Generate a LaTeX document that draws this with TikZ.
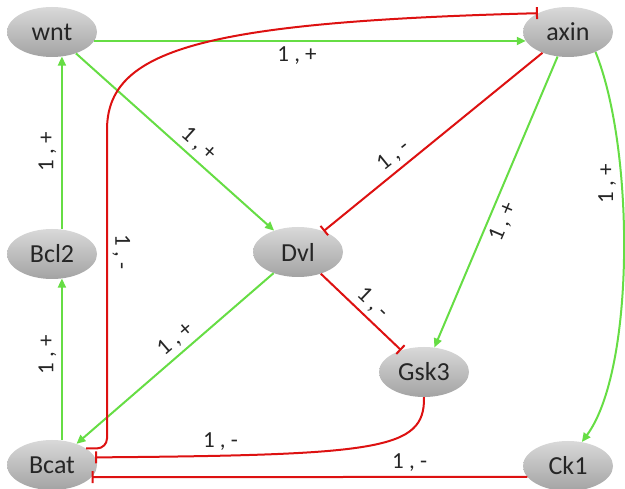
\documentclass[tikz,border=0pt]{standalone}
\usepackage{fontspec}
\setmainfont{Carlito}
\usetikzlibrary{arrows.meta,shapes.geometric}
\definecolor{eg}{HTML}{66DD44}
\definecolor{er}{HTML}{DD1111}
\begin{document}
\begin{tikzpicture}[x=1pt,y=-1pt,
  gene/.style={ellipse, minimum width=90pt, minimum height=50pt, inner sep=0pt,
    top color=gray!30, middle color=gray!8, bottom color=gray!72,
    font=\fontsize{26}{30}\selectfont, text=black!85},
  act/.style={draw=eg, line width=2pt, -{Triangle[length=9pt,width=8pt]}},
  inh/.style={draw=er, line width=2pt, -{Bar[width=12pt,line width=2pt]}},
  lab/.style={font=\fontsize{23}{26}\selectfont, inner sep=4.5pt, text=black!85}]
\useasboundingbox (0,0) rectangle (625,489);
\node[gene] (wnt) at (52,32) {wnt};
\node[gene] (axin) at (568,32) {axin};
\node[gene] (bcl2) at (52,254) {Bcl2};
\node[gene] (dvl) at (298,252) {Dvl};
\node[gene] (gsk3) at (424,372) {Gsk3};
\node[gene] (bcat) at (52,465) {Bcat};
\node[gene] (ck1) at (568,466) {Ck1};

\draw[act] (wnt.-12) -- node[lab, pos=0.47, below] {1 , +} (axin.192);
\draw[act] (wnt) -- node[lab, pos=0.57, sloped, above] {1 , +} (dvl);
\draw[act] (bcl2.68) -- node[lab, pos=0.45, sloped, above] {1 , +} (wnt.-68);
\draw[act] (bcat.68) -- node[lab, pos=0.53, sloped, above] {1 , +} (bcl2.-68);
\draw[inh] (axin) -- node[lab, pos=0.64, sloped, above] {1 , -} (dvl);
\draw[act] (axin) -- node[lab, pos=0.55, sloped, below] {1 , +} (gsk3);
\draw[act] (axin.-36.5) .. controls (635,150) and (635,370) .. node[lab, pos=0.34, rotate=90, anchor=south] {1 , +} (ck1.60);
\draw[act] (dvl) -- node[lab, pos=0.45, sloped, above] {1 , +} (bcat);
\draw[inh] (dvl) -- node[lab, pos=0.52, sloped, above] {1 , -} (gsk3);
\draw[inh] (gsk3.south) .. controls (425,450) and (380,455) .. node[lab, pos=0.83, above] {1 , -} (bcat.10);
\draw[inh] (ck1.195) -- node[lab, pos=0.27, above] {1 , -} (bcat.-17);
\draw[inh, rounded corners=10pt] (bcat.26) -| (107,300) [sharp corners] -- node[lab, pos=0.28, rotate=-90, anchor=south] {1 , -} (107,130) .. controls (107,50) and (200,22) .. (axin.148);
\end{tikzpicture}
\end{document}
